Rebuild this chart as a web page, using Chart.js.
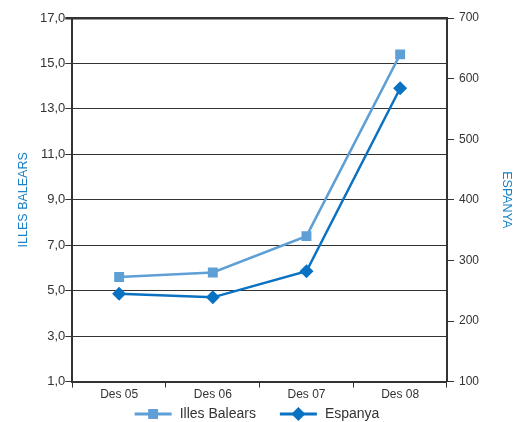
<!DOCTYPE html>
<html>
<head>
<meta charset="utf-8">
<script src="https://cdn.jsdelivr.net/npm/chart.js@4"></script>
<style>
  html, body { margin: 0; padding: 0; background: #fff; }
  #wrap { width: 514px; height: 422px; }
</style>
</head>
<body>
<div id="wrap"><canvas id="chart" width="514" height="422"></canvas></div>
<script>
// data
const categories = ["Des 05", "Des 06", "Des 07", "Des 08"];
const illesBalears = [5.6, 5.8, 7.4, 15.4];
const espanya = [245, 239, 282, 584];
const leftTicks = [1, 3, 5, 7, 9, 11, 13, 15, 17];
const rightTicks = [100, 200, 300, 400, 500, 600, 700];

const lightBlue = "#5e9fd6";
const darkBlue = "#0a72c2";
const titleBlue = "#1a82c8";
const inkColor = "#333";
const fontFamily = "'Liberation Sans', Arial, sans-serif";

// legend at the bottom: line with marker, then label
const lineLegend = {
    id: "lineLegend",
    afterDraw(chart) {
        const ctx = chart.ctx;
        const lineW = 37, textGap = 8, itemGap = 24;
        const cy = 414;
        ctx.save();
        ctx.font = "14px " + fontFamily;
        const sets = chart.data.datasets;
        const widths = sets.map(ds => ctx.measureText(ds.label).width);
        let total = 0;
        widths.forEach((w, i) => { total += lineW + textGap + w + (i ? itemGap : 0); });
        let x = chart.width / 2 - total / 2;
        sets.forEach((ds, i) => {
            ctx.strokeStyle = ds.borderColor;
            ctx.lineWidth = 3;
            ctx.beginPath();
            ctx.moveTo(x, cy);
            ctx.lineTo(x + lineW, cy);
            ctx.stroke();
            ctx.fillStyle = ds.borderColor;
            Chart.helpers.drawPoint(ctx, {
                pointStyle: ds.pointStyle,
                radius: ds.pointRadius,
                rotation: 0,
                borderWidth: 0
            }, x + lineW / 2, cy);
            ctx.fillStyle = inkColor;
            ctx.textBaseline = "middle";
            ctx.textAlign = "left";
            ctx.fillText(ds.label, x + lineW + textGap, cy);
            x += lineW + textGap + widths[i] + itemGap;
        });
        ctx.restore();
    }
};

new Chart(document.getElementById("chart"), {
    type: "line",
    data: {
        labels: categories,
        datasets: [
            {
                label: "Illes Balears",
                data: illesBalears,
                yAxisID: "yLeft",
                borderColor: lightBlue,
                backgroundColor: lightBlue,
                borderWidth: 2.5,
                pointStyle: "rect",
                pointRadius: 7,
                pointHoverRadius: 7,
                pointBorderWidth: 0,
                tension: 0
            },
            {
                label: "Espanya",
                data: espanya,
                yAxisID: "yRight",
                borderColor: darkBlue,
                backgroundColor: darkBlue,
                borderWidth: 2.5,
                pointStyle: "rectRot",
                pointRadius: 7,
                pointHoverRadius: 7,
                pointBorderWidth: 0,
                tension: 0
            }
        ]
    },
    options: {
        responsive: false,
        animation: false,
        layout: {
            padding: { top: 18, left: 0, right: 0, bottom: 20 }
        },
        plugins: {
            tooltip: { enabled: false },
            legend: { display: false }
        },
        scales: {
            x: {
                offset: true,
                grid: {
                    offset: true,
                    drawOnChartArea: false,
                    color: inkColor,
                    tickLength: 6
                },
                border: { color: inkColor, width: 2 },
                ticks: {
                    color: inkColor,
                    font: { family: fontFamily, size: 12 },
                    padding: 0
                }
            },
            yLeft: {
                position: "left",
                min: leftTicks[0],
                max: leftTicks[leftTicks.length - 1],
                afterBuildTicks(axis) {
                    axis.ticks = leftTicks.map(v => ({ value: v }));
                },
                grid: {
                    color: inkColor,
                    lineWidth: ctx => (ctx.tick && ctx.tick.value === 17 ? 2.5 : 1),
                    tickLength: 7
                },
                border: { color: inkColor, width: 2 },
                ticks: {
                    color: inkColor,
                    font: { family: fontFamily, size: 13 },
                    padding: 0,
                    callback: v => v.toFixed(1).replace(".", ",")
                },
                title: {
                    display: true,
                    text: "ILLES BALEARS",
                    color: titleBlue,
                    font: { family: fontFamily, size: 12.5 },
                    padding: { top: 16, bottom: 9 }
                }
            },
            yRight: {
                position: "right",
                min: rightTicks[0],
                max: rightTicks[rightTicks.length - 1],
                afterBuildTicks(axis) {
                    axis.ticks = rightTicks.map(v => ({ value: v }));
                },
                grid: {
                    drawOnChartArea: false,
                    color: inkColor,
                    tickLength: 7
                },
                border: { color: inkColor, width: 2 },
                ticks: {
                    color: inkColor,
                    font: { family: fontFamily, size: 12 },
                    padding: 5
                },
                title: {
                    display: true,
                    text: "ESPANYA",
                    color: titleBlue,
                    font: { family: fontFamily, size: 12.5 },
                    padding: { top: 0, bottom: 15 }
                }
            }
        }
    },
    plugins: [lineLegend]
});
</script>
</body>
</html>
